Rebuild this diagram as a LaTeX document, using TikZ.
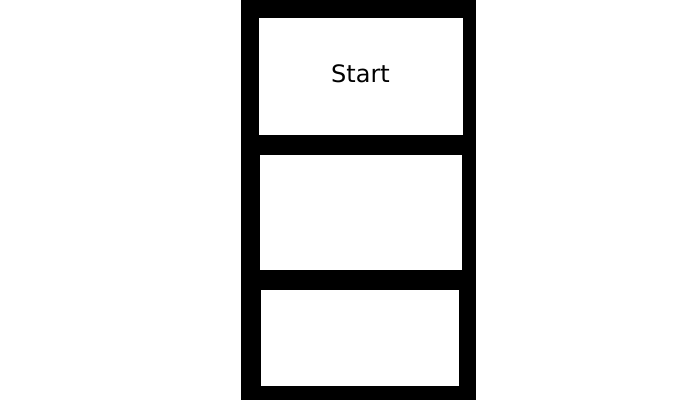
\documentclass[tikz,border=0pt]{standalone}
\usepackage{fontspec}
\setmainfont{DejaVu Sans}
\begin{document}
\begin{tikzpicture}[x=1pt,y=-1pt,
  panel/.style={fill=white,draw=none,inner sep=0pt,outer sep=0pt},
  paneltext/.style={inner sep=0pt,outer sep=0pt,font=\fontsize{24}{28}\selectfont}]
\useasboundingbox (0,0) rectangle (700,400);
\fill[white] (0,0) rectangle (700,400);
\node[fill=black,inner sep=0pt,minimum width=235pt,minimum height=400pt] (frame) at (358.5,200) {};
\node[panel,minimum width=204pt,minimum height=117pt] (start) at (361,76.5) {};
\node[paneltext,anchor=base] (starttext) at (360.5,82) {Start};
\node[panel,minimum width=202pt,minimum height=115pt] (mid) at (361,212.5) {};
\node[panel,minimum width=198pt,minimum height=96pt] (low) at (360,338) {};
\end{tikzpicture}
\end{document}
